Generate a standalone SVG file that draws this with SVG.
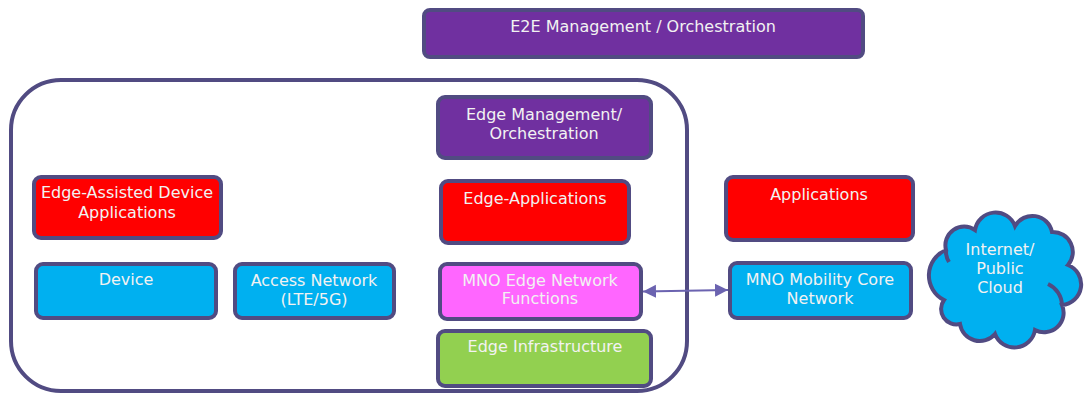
<svg xmlns="http://www.w3.org/2000/svg" width="1085" height="394" viewBox="0 0 1085 394">
<defs>
<style>
.b{stroke:#514b82;stroke-width:4}
.t{font-family:"DejaVu Sans",Verdana,sans-serif;font-size:16px;fill:#f2f2f2;text-anchor:middle}
.purple{fill:#7030a0}.red{fill:#ff0000}.blue{fill:#00b0f0}.pink{fill:#ff66ff}.green{fill:#92d050}
</style>
<marker id="ah" viewBox="0 0 10 10" refX="10" refY="5" markerWidth="6.5" markerHeight="7" orient="auto-start-reverse" markerUnits="strokeWidth">
<path d="M0,0 L10,5 L0,10 z" fill="#6b63b0"/>
</marker>
</defs>
<rect width="1085" height="394" fill="#ffffff"/>
<g id="edge-container">
<rect x="11" y="80" width="676" height="311" rx="50" fill="none" stroke="#514b82" stroke-width="4"/>
</g>
<g id="e2e">
<rect class="b purple" x="424" y="10" width="439" height="47" rx="6"/>
<text class="t" x="643" y="32">E2E Management / Orchestration</text>
</g>
<g id="edge-mgmt">
<rect class="b purple" x="438" y="97" width="213" height="61" rx="7"/>
<text class="t" x="544" y="120">Edge Management/</text>
<text class="t" x="544" y="139">Orchestration</text>
</g>
<g id="edge-assisted">
<rect class="b red" x="34" y="177" width="187" height="61" rx="7"/>
<text class="t" x="127" y="198">Edge-Assisted Device</text>
<text class="t" x="127" y="218">Applications</text>
</g>
<g id="device">
<rect class="b blue" x="36" y="264" width="180" height="54" rx="7"/>
<text class="t" x="126" y="285">Device</text>
</g>
<g id="access">
<rect class="b blue" x="235" y="264" width="159" height="54" rx="7"/>
<text class="t" x="314" y="286">Access Network</text>
<text class="t" x="314" y="305">(LTE/5G)</text>
</g>
<g id="edge-apps">
<rect class="b red" x="441" y="181" width="188" height="62" rx="7"/>
<text class="t" x="535" y="204">Edge-Applications</text>
</g>
<g id="mno-edge">
<rect class="b pink" x="440" y="264" width="201" height="55" rx="7"/>
<text class="t" x="540" y="286">MNO Edge Network</text>
<text class="t" x="540" y="304">Functions</text>
</g>
<g id="edge-infra">
<rect class="b green" x="438" y="331" width="213" height="55" rx="7"/>
<text class="t" x="545" y="352">Edge Infrastructure</text>
</g>
<g id="applications">
<rect class="b red" x="726" y="177" width="187" height="63" rx="7"/>
<text class="t" x="819" y="200">Applications</text>
</g>
<g id="mno-core">
<rect class="b blue" x="730" y="263" width="181" height="55" rx="7"/>
<text class="t" x="820" y="285">MNO Mobility Core</text>
<text class="t" x="820" y="304">Network</text>
</g>
<g id="cloud">
<path class="b blue" d="M944,300 A27.5,27.5 0 0 1 946,250 A18.75,18.75 0 0 1 975,230 A20.8,20.8 0 0 1 1015,226 A20,20 0 0 1 1052,232 A20,20 0 0 1 1068,265 A20.75,20.75 0 0 1 1062,305 A19.5,19.5 0 0 1 1035,330 A20.8,20.8 0 0 1 995,334 A20,20 0 0 1 960,324 A15.4,15.4 0 0 1 944,300 Z"/>
<path d="M1048,284 A24,24 0 0 1 1062,305 M946,250 A20,20 0 0 0 949,262" fill="none" stroke="#514b82" stroke-width="4"/>
<text class="t" x="1000" y="255">Internet/</text>
<text class="t" x="1000" y="274">Public</text>
<text class="t" x="1000" y="293">Cloud</text>
</g>
<g id="connectors">
<line x1="643" y1="291.5" x2="728" y2="290" stroke="#6b63b0" stroke-width="2" marker-start="url(#ah)" marker-end="url(#ah)"/>
</g>
</svg>
